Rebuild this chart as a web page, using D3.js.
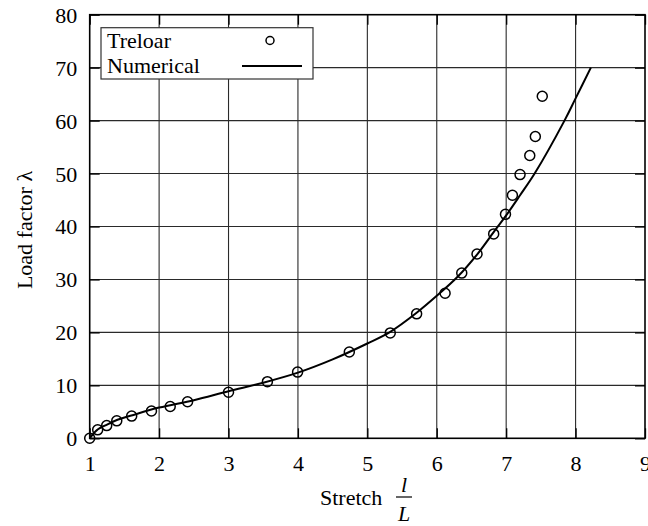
<!DOCTYPE html>
<html>
<head>
<meta charset="utf-8">
<script src="https://cdn.jsdelivr.net/npm/d3@7"></script>
<style>
  html, body { margin: 0; padding: 0; background: #fff; }
  svg { display: block; }
  text { font-family: "Liberation Serif", "Times New Roman", serif; fill: #000; }
</style>
</head>
<body>
<svg id="chart" width="648" height="526"></svg>
<script>
// ---- data ----
const treloarStretch = [1.0, 1.115, 1.245, 1.39, 1.605, 1.89, 2.16, 2.41, 3.0, 3.56, 3.995, 4.74, 5.33, 5.71, 6.12, 6.36, 6.58, 6.82, 6.99, 7.09, 7.2, 7.34, 7.42, 7.52];
const treloarLoad    = [0.0, 1.6, 2.4, 3.3, 4.2, 5.15, 6.0, 6.9, 8.7, 10.7, 12.5, 16.3, 19.9, 23.5, 27.4, 31.2, 34.8, 38.6, 42.3, 45.9, 49.8, 53.4, 57.0, 64.6];
const numStretch = [1.0, 1.1, 1.25, 1.4, 1.6, 2.0, 2.5, 3.0, 3.5, 4.0, 4.5, 5.0, 5.33, 5.71, 6.0, 6.3, 6.58, 6.84, 7.0, 7.2, 7.41, 7.84, 8.0, 8.22];
const numLoad    = [0.0, 1.5, 2.6, 3.5, 4.3, 5.8, 7.2, 8.9, 10.5, 12.4, 14.9, 17.9, 20.1, 23.7, 26.9, 30.5, 34.7, 39.3, 42.1, 45.9, 50.0, 60.0, 64.2, 70.0];
const xTicks = [1, 2, 3, 4, 5, 6, 7, 8, 9];
const yTicks = [0, 10, 20, 30, 40, 50, 60, 70, 80];
const legendLabels = ["Treloar", "Numerical"];
const yTitle = "Load factor λ";
const xTitle = "Stretch";

// ---- layout ----
const svg = d3.select("#chart");
const L = 89.7, R = 645, T = 14.7, B = 438.3;
const x = d3.scaleLinear().domain([1, 9]).range([L, R]);
const y = d3.scaleLinear().domain([0, 80]).range([B, T]);
const FS = 22;

// grid
const grid = svg.append("g");
grid.selectAll("line.vx").data(xTicks.slice(1, -1)).join("line")
  .attr("x1", d => x(d)).attr("x2", d => x(d)).attr("y1", T).attr("y2", B)
  .attr("stroke", "#2a2a2a").attr("stroke-width", 1.1);
grid.selectAll("line.hy").data(yTicks.slice(1, -1)).join("line")
  .attr("y1", d => y(d)).attr("y2", d => y(d)).attr("x1", L).attr("x2", R)
  .attr("stroke", "#2a2a2a").attr("stroke-width", 1.1);

// axes (labels + inward ticks)
const tickLen = 10;
const axB = svg.append("g").attr("transform", `translate(0,${B})`)
  .call(d3.axisBottom(x).tickValues(xTicks).tickSize(-tickLen).tickPadding(20).tickFormat(d3.format("d")));
const axT = svg.append("g").attr("transform", `translate(0,${T})`)
  .call(d3.axisTop(x).tickValues(xTicks).tickSize(-tickLen).tickFormat(""));
const axLft = svg.append("g").attr("transform", `translate(${L},0)`)
  .call(d3.axisLeft(y).tickValues(yTicks).tickSize(-tickLen).tickPadding(12.5).tickFormat(d3.format("d")));
const axRt = svg.append("g").attr("transform", `translate(${R},0)`)
  .call(d3.axisRight(y).tickValues(yTicks).tickSize(-tickLen).tickFormat(""));
[axB, axT, axLft, axRt].forEach(a => {
  a.select(".domain").remove();
  a.selectAll(".tick line").attr("stroke", "#000").attr("stroke-width", 1.3);
  a.selectAll("text").style("font-family", '"Liberation Serif", serif').style("font-size", FS + "px").attr("fill", "#000");
});
axB.selectAll("text").attr("dy", null).attr("y", 33);
axLft.selectAll("text").attr("dy", "0.34em");

// frame
svg.append("rect").attr("x", L).attr("y", T).attr("width", R - L).attr("height", B - T)
  .attr("fill", "none").attr("stroke", "#000").attr("stroke-width", 1.6);

// numerical curve
const line = d3.line().x(d => x(d[0])).y(d => y(d[1])).curve(d3.curveCatmullRom.alpha(0.5));
svg.append("path").datum(numStretch.map((s, i) => [s, numLoad[i]]))
  .attr("d", line).attr("fill", "none").attr("stroke", "#000").attr("stroke-width", 2);

// Treloar markers
svg.append("g").selectAll("circle").data(treloarStretch.map((s, i) => [s, treloarLoad[i]])).join("circle")
  .attr("cx", d => x(d[0])).attr("cy", d => y(d[1])).attr("r", 5)
  .attr("fill", "none").attr("stroke", "#000").attr("stroke-width", 1.5);

// legend
const lg = svg.append("g");
lg.append("rect").attr("x", 101).attr("y", 27.7).attr("width", 212).attr("height", 51.3)
  .attr("fill", "#fff").attr("stroke", "#333").attr("stroke-width", 1.2);
lg.append("text").attr("x", 107).attr("y", 48).style("font-size", FS + "px").text(legendLabels[0]);
lg.append("text").attr("x", 107).attr("y", 73).style("font-size", FS + "px").text(legendLabels[1]);
lg.append("circle").attr("cx", 270).attr("cy", 40.5).attr("r", 4)
  .attr("fill", "none").attr("stroke", "#000").attr("stroke-width", 1.5);
lg.append("line").attr("x1", 242).attr("x2", 302).attr("y1", 66).attr("y2", 66)
  .attr("stroke", "#000").attr("stroke-width", 2);

// axis titles
svg.append("text").attr("transform", "translate(32,230) rotate(-90)")
  .attr("text-anchor", "middle").style("font-size", FS + "px").text(yTitle);
svg.append("text").attr("x", 320).attr("y", 505).style("font-size", FS + "px").text(xTitle);
svg.append("text").attr("x", 404).attr("y", 492).attr("text-anchor", "middle")
  .style("font-size", FS + "px").style("font-style", "italic").text("l");
svg.append("line").attr("x1", 396).attr("x2", 412).attr("y1", 497).attr("y2", 497)
  .attr("stroke", "#000").attr("stroke-width", 1.2);
svg.append("text").attr("x", 404).attr("y", 521).attr("text-anchor", "middle")
  .style("font-size", FS + "px").style("font-style", "italic").text("L");
</script>
</body>
</html>
